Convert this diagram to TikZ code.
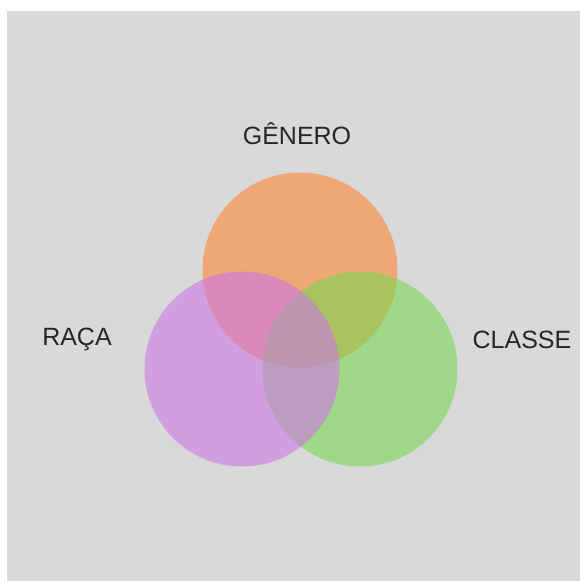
\documentclass[tikz,border=0pt]{standalone}
\usepackage{fontspec}
\setmainfont{Liberation Sans}
\usetikzlibrary{positioning}
\definecolor{fundo}{RGB}{217,217,217}
\definecolor{laranja}{RGB}{255,135,55}
\definecolor{roxo}{RGB}{205,119,229}
\definecolor{verde}{RGB}{122,215,82}

\begin{document}
\begin{tikzpicture}[x=1pt, y=1pt,
    conjunto/.style={circle, minimum size=195pt, inner sep=0pt, fill opacity=0.6},
    rotulo/.style={font=\fontsize{25}{29}\selectfont, text=black!85}]
   \fill[white] (0,0) rectangle (580,581);
   \fill[fundo] (7,0) rectangle (580,570);

   \node[conjunto, fill=laranja] (genero) at (300,311) {};
   \node[conjunto, fill=verde]   (classe) at (360,212) {};
   \node[conjunto, fill=roxo]    (raca)   at (242,212) {};

   \node[rotulo] (tgenero) at (297,447) {GÊNERO};
   \node[rotulo] (traca)   at (77,242)  {RAÇA};
   \node[rotulo] (tclasse) at (522,241) {CLASSE};
\end{tikzpicture}
\end{document}
